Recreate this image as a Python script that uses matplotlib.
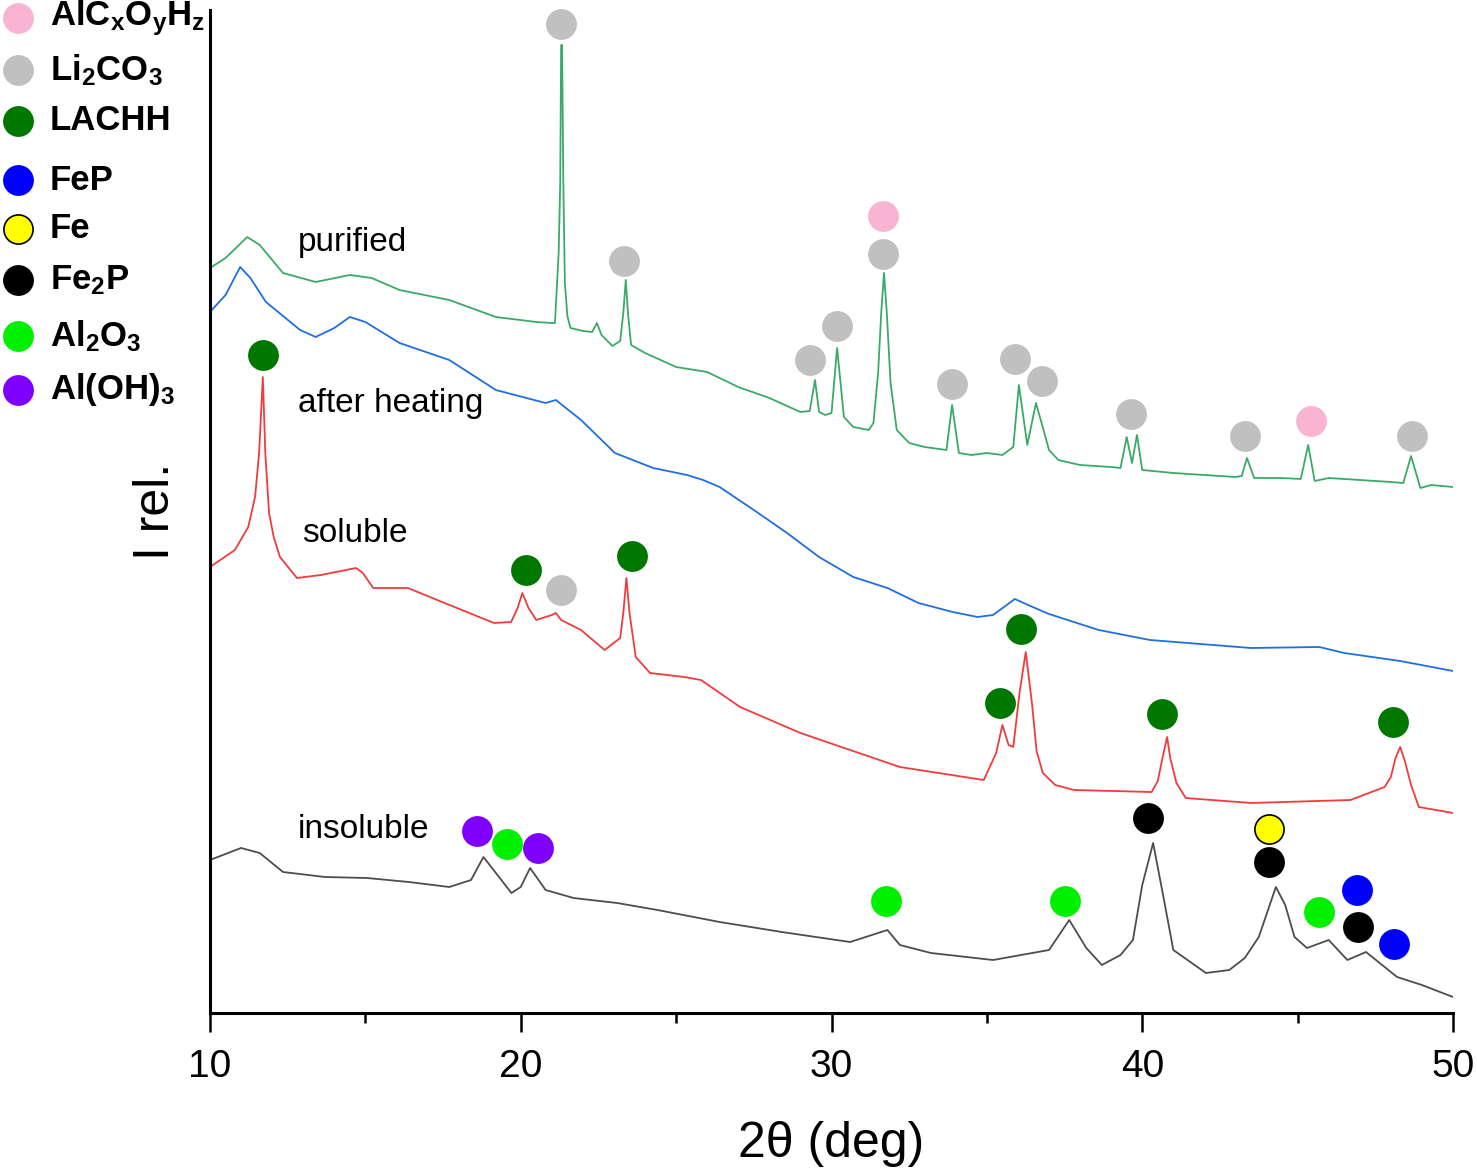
import matplotlib
matplotlib.use('Agg')
import matplotlib.pyplot as plt
from matplotlib.ticker import MultipleLocator

plt.rcParams['font.family'] = ['Liberation Sans', 'DejaVu Sans']
plt.rcParams['mathtext.fontset'] = 'custom'
plt.rcParams['mathtext.rm'] = 'Liberation Sans:bold'
plt.rcParams['mathtext.it'] = 'Liberation Sans:bold'
plt.rcParams['mathtext.bf'] = 'Liberation Sans:bold'

# ---- traces (2theta in deg, relative intensity) ----
purified_x = [10.0, 10.5, 11.2, 11.6, 12.35, 13.4, 14.5, 15.2, 16.1, 17.7, 19.2, 20.5, 21.0,
              21.1, 21.22, 21.27, 21.30, 21.33, 21.37, 21.42, 21.5, 21.6, 22.0, 22.3, 22.45,
              22.6, 22.95, 23.2, 23.3, 23.38, 23.45, 23.55, 24.0, 25.0, 26.0, 27.0, 28.0, 29.0,
              29.3, 29.47, 29.6, 29.8, 30.0, 30.18, 30.4, 30.7, 31.2, 31.35, 31.5, 31.6, 31.69,
              31.78, 31.9, 32.1, 32.5, 33.0, 33.7, 33.88, 34.1, 34.5, 35.0, 35.5, 35.85, 36.03,
              36.3, 36.58, 36.85, 37.0, 37.3, 38.0, 39.0, 39.3, 39.5, 39.67, 39.83, 40.0, 41.0,
              42.0, 43.0, 43.2, 43.37, 43.6, 44.5, 45.1, 45.34, 45.55, 46.0, 47.0, 48.0, 48.4,
              48.65, 48.95, 49.3, 50.0]
purified_y = [745, 755, 776, 768, 740, 731, 738, 735, 723, 713, 696, 691, 690,
              690, 760, 830, 968, 968, 830, 730, 697, 685, 682, 681, 690,
              678, 667, 672, 700, 733, 700, 668, 660, 646, 641, 626, 615, 601,
              602, 633, 601, 598, 600, 665, 596, 586, 583, 590, 640, 700, 740,
              700, 630, 583, 570, 566, 563, 608, 560, 558, 560, 558, 566, 628,
              568, 610, 580, 563, 553, 548, 546, 545, 576, 550, 578, 543, 540,
              538, 536, 537, 555, 535, 535, 534, 568, 532, 535, 533, 531, 530,
              557, 525, 528, 526]

heated_x = [10.0, 10.5, 10.97, 11.3, 11.8, 12.9, 13.4, 14.0, 14.5, 15.0, 16.1, 17.7, 19.2,
            20.8, 21.13, 21.94, 23.03, 24.26, 25.35, 25.87, 26.4, 27.5, 28.57, 29.6, 30.7,
            31.8, 32.8, 33.9, 34.7, 35.2, 35.9, 36.4, 37.0, 38.6, 40.25, 43.5, 45.7, 46.5,
            48.3, 50.0]
heated_y = [701, 718, 746, 735, 711, 683, 676, 685, 696, 691, 670, 653, 623,
            610, 613, 593, 560, 545, 538, 533, 526, 503, 480, 456, 436,
            425, 410, 401, 396, 398, 414, 407, 399, 383, 373, 365, 366, 360,
            352, 342]

soluble_x = [10.0, 10.8, 11.23, 11.45, 11.58, 11.7, 11.78, 11.9, 12.05, 12.25, 12.8, 13.57,
             14.7, 14.92, 15.25, 16.37, 17.47, 19.14, 19.69, 19.9, 20.05, 20.25, 20.5, 21.0,
             21.13, 21.3, 21.94, 22.7, 23.2, 23.3, 23.4, 23.5, 23.7, 24.16, 25.26, 25.8,
             27.06, 29.0, 32.2, 34.9, 35.3, 35.5, 35.7, 35.85, 36.05, 36.25, 36.45, 36.6,
             36.8, 37.2, 37.8, 40.3, 40.5, 40.65, 40.8, 40.9, 41.1, 41.4, 43.5, 46.7, 47.8,
             48.0, 48.15, 48.3, 48.45, 48.65, 48.9, 50.0]
soluble_y = [446, 463, 486, 516, 560, 636, 560, 500, 476, 456, 435, 438,
             445, 440, 425, 425, 411, 390, 391, 405, 420, 405, 393, 398,
             400, 393, 383, 363, 375, 400, 435, 400, 356, 340, 336, 333,
             306, 280, 246, 233, 260, 288, 268, 266, 320, 361, 310, 262,
             240, 228, 223, 221, 232, 255, 276, 255, 230, 215, 210, 213, 226,
             236, 255, 266, 252, 228, 206, 200]

insoluble_x = [10.0, 11.0, 11.6, 12.35, 13.7, 15.05, 16.4, 17.7, 18.4, 18.8, 19.3, 19.7,
               20.0, 20.3, 20.8, 21.7, 23.1, 24.4, 26.4, 28.4, 30.6, 31.8, 32.2, 33.2, 35.2,
               37.0, 37.65, 38.2, 38.7, 39.3, 39.7, 40.0, 40.35, 40.7, 41.0, 42.05, 42.8,
               43.3, 43.75, 44.3, 44.6, 44.9, 45.3, 46.0, 46.6, 47.2, 48.2, 49.0, 50.0]
insoluble_y = [153, 165, 160, 141, 136, 135, 131, 126, 133, 156, 136, 120,
               126, 145, 123, 115, 110, 103, 91, 81, 71, 83, 68, 60, 53,
               63, 93, 65, 48, 58, 73, 128, 170, 113, 63, 40, 43,
               55, 76, 126, 108, 76, 65, 73, 53, 61, 36, 28, 16]

trace_names = ['purified', 'after heating', 'soluble', 'insoluble']
trace_colors = ['#3aaa6a', '#1f6fe0', '#f03c3c', '#4d4d4d']

# ---- phase markers (peak assignments) ----
phases = ['AlCxOyHz', 'Li2CO3', 'LACHH', 'FeP', 'Fe', 'Fe2P', 'Al2O3', 'Al(OH)3']
phase_labels = ['AlC$_x$O$_y$H$_z$', 'Li$_2$CO$_3$', 'LACHH', 'FeP', 'Fe',
                'Fe$_2$P', 'Al$_2$O$_3$', 'Al(OH)$_3$']
phase_colors = ['#f9b4d2', '#c0c0c0', '#007800', '#0000ff', '#ffff00',
                '#000000', '#00f000', '#7f00ff']
phase_x = {
    'AlCxOyHz': [31.66, 45.43],
    'Li2CO3': [21.30, 23.32, 29.31, 30.18, 31.66, 33.88, 35.90, 36.77, 39.64, 43.31, 48.68, 21.30],
    'LACHH': [11.71, 20.17, 23.58, 36.10, 35.42, 40.64, 48.07],
    'FeP': [46.91, 48.10],
    'Fe': [44.08],
    'Fe2P': [40.19, 44.08, 46.94],
    'Al2O3': [19.56, 31.75, 37.51, 45.69],
    'Al(OH)3': [18.59, 20.56],
}
phase_y = {
    'AlCxOyHz': [797, 592],
    'Li2CO3': [989, 752, 653, 687, 759, 629, 654, 632, 599, 577, 577, 423],
    'LACHH': [658, 443, 457, 384, 310, 299, 291],
    'FeP': [123, 69],
    'Fe': [184],
    'Fe2P': [195, 151, 86],
    'Al2O3': [169, 112, 112, 101],
    'Al(OH)3': [182, 165],
}

fig = plt.figure(figsize=(14.77, 11.73), dpi=100)
ax = fig.add_axes([210 / 1477, 160 / 1173, 1243 / 1477, 1003 / 1173])

traces = [(purified_x, purified_y), (heated_x, heated_y),
          (soluble_x, soluble_y), (insoluble_x, insoluble_y)]
for (tx, ty), c in zip(traces, trace_colors):
    ax.plot(tx, ty, color=c, lw=1.3, zorder=2)

for p, c in zip(phases, phase_colors):
    ec = 'black' if p == 'Fe' else c
    ax.plot(phase_x[p], phase_y[p], 'o', ms=21, mfc=c, mec=ec, mew=1.2,
            ls='none', zorder=3, clip_on=False)

# sample labels
ax.text(12.83, 771, 'purified', fontsize=24, va='center')
ax.text(12.83, 610, 'after heating', fontsize=24, va='center')
ax.text(12.96, 479, 'soluble', fontsize=24, va='center')
ax.text(12.83, 184, 'insoluble', fontsize=24, va='center')

ax.set_xlim(10, 50)
ax.set_ylim(0, 1003)
ax.set_yticks([])
ax.xaxis.set_major_locator(MultipleLocator(10))
ax.xaxis.set_minor_locator(MultipleLocator(5))
ax.tick_params(axis='x', which='major', length=14, width=1.8, labelsize=28, pad=12)
ax.tick_params(axis='x', which='minor', length=7, width=1.8)
for s in ['top', 'right']:
    ax.spines[s].set_visible(False)
for s in ['left', 'bottom']:
    ax.spines[s].set_linewidth(2.2)
ax.set_xlabel('2θ (deg)', fontsize=36, labelpad=26)
ax.set_ylabel('I rel.', fontsize=36, labelpad=22)

# legend drawn in pixel coords on an overlay
lax = fig.add_axes([0, 0, 1, 1], zorder=5)
lax.set_xlim(0, 1477)
lax.set_ylim(1173, 0)
lax.axis('off')
legend_rows = [18, 70, 121, 180, 229, 280, 336, 390]
for row, lab, c, p in zip(legend_rows, phase_labels, phase_colors, phases):
    ec = 'black' if p == 'Fe' else c
    lax.plot([18], [row], 'o', ms=21, mfc=c, mec=ec, mew=1.2)
    lax.text(50, row, lab, fontsize=25, fontweight='bold', va='center')

fig.savefig('out.png', dpi=100)
